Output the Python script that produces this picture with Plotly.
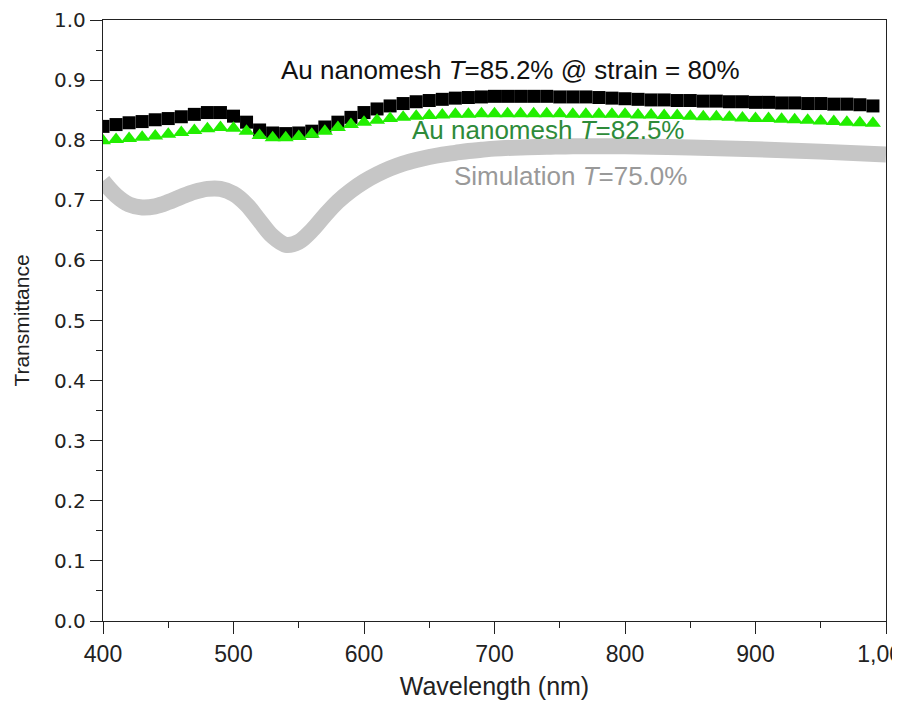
import plotly.graph_objects as go

wl = list(range(400, 1000, 10))  # 400..990

strain_T = [0.823, 0.826, 0.829, 0.831, 0.834, 0.836, 0.839, 0.843, 0.846, 0.846,
            0.840, 0.830, 0.817, 0.812, 0.811, 0.812, 0.815, 0.822, 0.830, 0.838,
            0.846, 0.852, 0.857, 0.861, 0.864, 0.866, 0.868, 0.870, 0.871, 0.872,
            0.873, 0.873, 0.873, 0.873, 0.873, 0.872, 0.872, 0.872, 0.871, 0.870,
            0.869, 0.868, 0.867, 0.867, 0.866, 0.866, 0.865, 0.865, 0.864, 0.864,
            0.863, 0.863, 0.862, 0.862, 0.861, 0.861, 0.860, 0.860, 0.859, 0.857]

mesh_T = [0.799, 0.801, 0.803, 0.805, 0.807, 0.810, 0.813, 0.816, 0.819, 0.821,
          0.820, 0.815, 0.808, 0.804, 0.804, 0.806, 0.810, 0.815, 0.821, 0.826,
          0.830, 0.833, 0.836, 0.838, 0.840, 0.841, 0.842, 0.843, 0.843, 0.844,
          0.844, 0.844, 0.844, 0.844, 0.844, 0.844, 0.843, 0.843, 0.843, 0.843,
          0.843, 0.842, 0.842, 0.841, 0.841, 0.840, 0.839, 0.839, 0.838, 0.837,
          0.836, 0.836, 0.835, 0.834, 0.833, 0.832, 0.831, 0.830, 0.829, 0.828]

sim_wl = [400, 410, 420, 430, 440, 450, 460, 470, 480, 490, 500, 510, 520, 530, 540,
          550, 560, 570, 580, 590, 600, 610, 620, 630, 640, 650, 660, 670, 680, 690,
          700, 720, 740, 760, 780, 800, 850, 900, 950, 1000]
sim_T = [0.732, 0.708, 0.693, 0.688, 0.690, 0.697, 0.706, 0.714, 0.719, 0.719,
         0.711, 0.693, 0.666, 0.640, 0.626, 0.631, 0.650, 0.675, 0.698, 0.716,
         0.731, 0.743, 0.753, 0.761, 0.767, 0.772, 0.776, 0.779, 0.782, 0.784,
         0.786, 0.788, 0.789, 0.790, 0.790, 0.790, 0.788, 0.785, 0.781, 0.776]

x_tickvals = [400, 500, 600, 700, 800, 900, 1000]
x_ticktext = ["400", "500", "600", "700", "800", "900", "1,000"]
y_tickvals = [0.0, 0.1, 0.2, 0.3, 0.4, 0.5, 0.6, 0.7, 0.8, 0.9, 1.0]

FONT = "Liberation Sans, Arial, Helvetica, sans-serif"

fig = go.Figure()
fig.add_trace(go.Scatter(x=sim_wl, y=sim_T, mode="lines", line=dict(color="#c6c6c6", width=16, shape="spline"),
                         showlegend=False, hoverinfo="skip"))
fig.add_trace(go.Scatter(x=wl, y=strain_T, mode="markers",
                         marker=dict(symbol="square", size=13, color="black"), showlegend=False))
fig.add_trace(go.Scatter(x=wl, y=mesh_T, mode="markers",
                         marker=dict(symbol="triangle-up", size=14, color="#22ee00"), showlegend=False))

fig.add_annotation(x=712, y=0.917, xref="x", yref="y", showarrow=False, xanchor="center", yanchor="middle",
                   text="Au nanomesh <i>T</i>=85.2% @ strain = 80%",
                   font=dict(family=FONT, size=26, color="#111111"))
fig.add_annotation(x=741, y=0.817, xref="x", yref="y", showarrow=False, xanchor="center", yanchor="middle",
                   text="Au nanomesh <i>T</i>=82.5%",
                   font=dict(family=FONT, size=26, color="#2e8b3a"))
fig.add_annotation(x=758, y=0.741, xref="x", yref="y", showarrow=False, xanchor="center", yanchor="middle",
                   text="Simulation <i>T</i>=75.0%",
                   font=dict(family=FONT, size=26, color="#999999"))

fig.update_layout(
    width=900, height=704,
    margin=dict(l=95, r=22, t=12, b=91),
    paper_bgcolor="white", plot_bgcolor="white",
    font=dict(family=FONT, size=20, color="#222222"),
)
fig.update_xaxes(range=[400, 1000], tickvals=x_tickvals, ticktext=x_ticktext,
                 tickfont=dict(size=23), ticklabeloverflow="allow", automargin=False,
                 ticks="outside", ticklen=12, tickwidth=1.2, tickcolor="#222",
                 minor=dict(dtick=50, tick0=400, ticks="outside", ticklen=6, tickcolor="#222", showgrid=False),
                 showline=True, linecolor="#222", linewidth=1.3, mirror=True,
                 showgrid=False, zeroline=False,
                 title=dict(text="Wavelength (nm)", font=dict(size=25), standoff=11))
fig.update_yaxes(range=[0, 1.0], tickvals=y_tickvals, tickformat=".1f",
                 tickfont=dict(size=20, family="DejaVu Sans, Liberation Sans, sans-serif"), automargin=False,
                 ticks="outside", ticklen=12, tickwidth=1.2, tickcolor="#222",
                 minor=dict(dtick=0.05, tick0=0, ticks="outside", ticklen=6, tickcolor="#222", showgrid=False),
                 showline=True, linecolor="#222", linewidth=1.3, mirror=True,
                 showgrid=False, zeroline=False,
                 title=dict(text="Transmittance", font=dict(size=21), standoff=18))

fig.write_html("out.html")
